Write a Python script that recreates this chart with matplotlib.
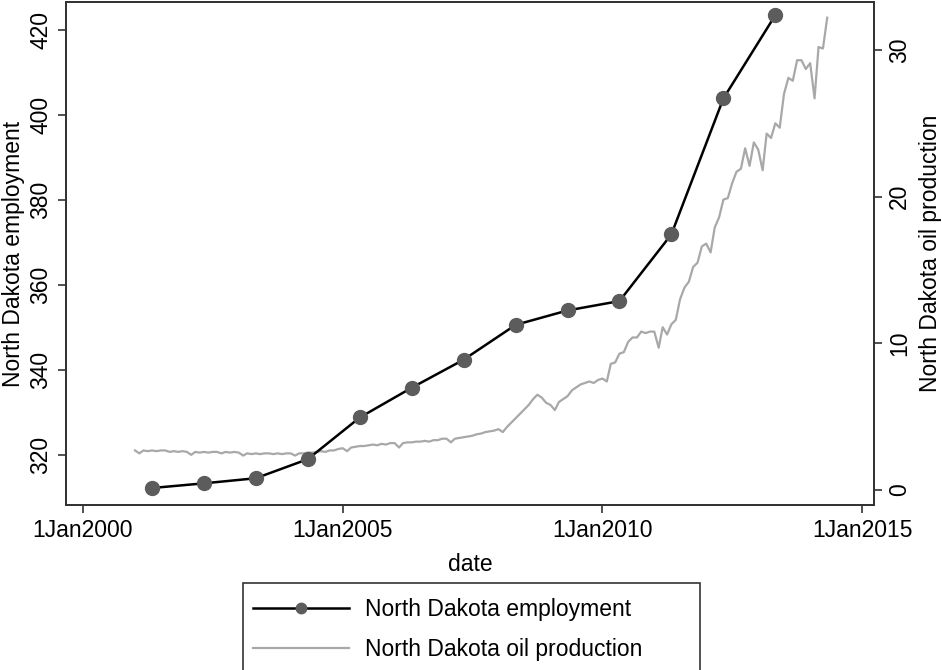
import matplotlib
matplotlib.use("Agg")
import matplotlib.pyplot as plt
import matplotlib.dates as mdates
from matplotlib.patches import Rectangle
import pandas as pd
import datetime as dt

plt.rcParams["font.family"] = ["Liberation Sans", "DejaVu Sans"]

# annual employment points (thousands)
emp_years = [2001, 2002, 2003, 2004, 2005, 2006, 2007,
             2008, 2009, 2010, 2011, 2012, 2013]
employment = [312.2, 313.3, 314.5, 319.0, 328.8, 335.8, 342.4,
              350.6, 354.0, 356.2, 371.9, 403.9, 423.5]

# monthly oil production, Jan 2001 - May 2014
oil_start = "2001-01-01"
oil_production = [
    2.70, 2.50, 2.70, 2.65, 2.70, 2.65, 2.70, 2.70, 2.60, 2.65, 2.60, 2.65,  # 2001
    2.60, 2.40, 2.60, 2.55, 2.60, 2.55, 2.60, 2.60, 2.50, 2.60, 2.55, 2.60,  # 2002
    2.55, 2.35, 2.50, 2.45, 2.50, 2.45, 2.50, 2.50, 2.45, 2.50, 2.45, 2.50,  # 2003
    2.50, 2.35, 2.50, 2.50, 2.55, 2.55, 2.60, 2.65, 2.60, 2.70, 2.70, 2.80,  # 2004
    2.85, 2.65, 2.90, 2.95, 3.00, 3.00, 3.05, 3.10, 3.05, 3.15, 3.10, 3.20,  # 2005
    3.20, 2.90, 3.20, 3.25, 3.25, 3.30, 3.30, 3.35, 3.30, 3.40, 3.40, 3.50,  # 2006
    3.50, 3.25, 3.50, 3.55, 3.60, 3.65, 3.70, 3.80, 3.85, 3.95, 4.00, 4.05,  # 2007
    4.15, 3.95, 4.30, 4.60, 4.90, 5.20, 5.50, 5.80, 6.20, 6.50, 6.30, 5.95,  # 2008
    5.80, 5.45, 6.00, 6.20, 6.40, 6.80, 7.00, 7.20, 7.30, 7.40, 7.30, 7.50,  # 2009
    7.60, 7.40, 8.60, 8.70, 9.30, 9.40, 10.1, 10.4, 10.4, 10.8, 10.7, 10.8,  # 2010
    10.8, 9.70, 11.1, 10.6, 11.3, 11.6, 13.0, 13.8, 14.2, 15.2, 15.5, 16.6,  # 2011
    16.8, 16.2, 17.9, 18.6, 19.8, 19.9, 20.9, 21.7, 21.9, 23.3, 22.1, 23.7,  # 2012
    23.2, 21.8, 24.3, 24.0, 25.0, 24.7, 27.0, 28.1, 27.9, 29.3, 29.3, 28.7,  # 2013
    29.1, 26.7, 30.2, 30.1, 32.2,                                            # 2014
]

emp_dates = [dt.date(y, 5, 1) for y in emp_years]
oil_dates = pd.date_range(oil_start, periods=len(oil_production), freq="MS")

W, H = 942, 670
fig = plt.figure(figsize=(W / 100, H / 100), dpi=100)
ax = fig.add_axes([66 / W, 1 - 505 / H, (874 - 66) / W, (505 - 2) / H])
ax2 = ax.twinx()

ax2.plot(oil_dates, oil_production, color="#a8a8a8", lw=1.6,
         label="North Dakota oil production")
ax.plot(emp_dates, employment, color="black", lw=1.8, marker="o",
        markersize=10, markerfacecolor="#5c5c5c", markeredgecolor="#5c5c5c",
        label="North Dakota employment")

# employment drawn above oil
ax.set_zorder(ax2.get_zorder() + 1)
ax.patch.set_visible(False)

ax.set_xlim(dt.date(1999, 9, 4), dt.date(2015, 3, 26))
ax.set_ylim(308.2, 426.6)
ax2.set_ylim(-1.02, 33.27)

ax.set_yticks([320, 340, 360, 380, 400, 420])
ax2.set_yticks([0, 10, 20, 30])
ax.set_xticks([dt.date(y, 1, 1) for y in (2000, 2005, 2010, 2015)])
ax.xaxis.set_major_formatter(mdates.DateFormatter("1%b%Y"))

fs = 16.5
for a in (ax, ax2):
    a.tick_params(direction="out", length=6, width=1.2, color="#333333",
                  labelsize=fs, pad=4)
    for s in a.spines.values():
        s.set_color("#333333")
        s.set_linewidth(1.3)
for lab in ax.get_yticklabels() + ax2.get_yticklabels():
    lab.set_rotation(90)
    lab.set_va("center")

ax.set_ylabel("North Dakota employment", fontsize=fs, labelpad=3)
ax2.set_ylabel("North Dakota oil production", fontsize=fs, labelpad=6)
ax.set_xlabel("date", fontsize=fs, labelpad=8)

# legend below the plot, Stata style box running off the bottom edge
h1, l1 = ax.get_legend_handles_labels()
h2, l2 = ax2.get_legend_handles_labels()
leg = fig.legend(h1 + h2, l1 + l2, loc="upper left",
                 bbox_to_anchor=(253 / W, 1 - 598 / H), borderaxespad=0,
                 fontsize=fs, frameon=False, borderpad=0,
                 handlelength=4.2, handletextpad=0.7,
                 labelspacing=0.75, markerscale=0.75)
fig.add_artist(Rectangle((243 / W, 1 - 675 / H), (700 - 243) / W, 92 / H,
                         transform=fig.transFigure, fill=False,
                         edgecolor="#333333", lw=1.2))

fig.savefig("out.png", dpi=100, facecolor="white")
